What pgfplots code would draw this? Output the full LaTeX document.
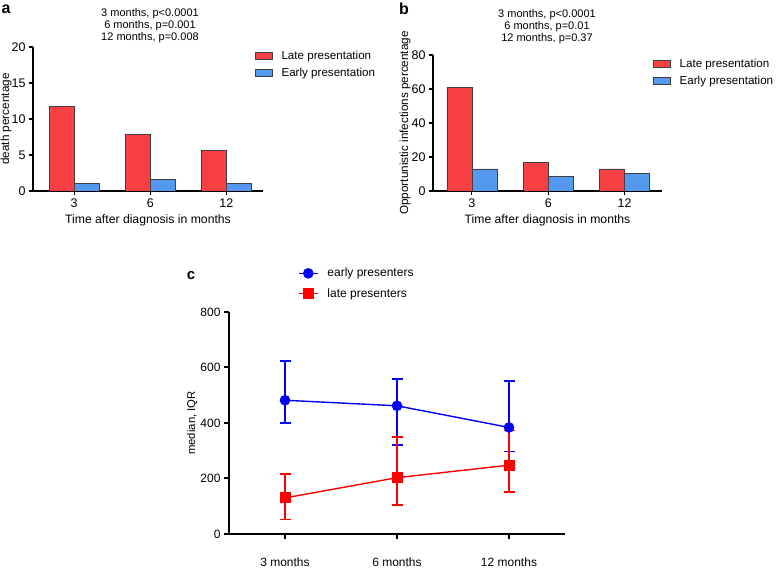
\documentclass[border=0pt]{standalone}
\usepackage{fontspec}
\setmainfont{Liberation Sans}
\usepackage{pgfplots}
\pgfplotsset{compat=1.18}
\definecolor{latered}{RGB}{246,64,68}
\definecolor{earlyblue}{RGB}{84,152,240}

\pgfplotsset{
  barpanel/.style={
    scale only axis, anchor=south west,
    ymin=0,
    axis x line*=bottom, axis y line*=left,
    axis line style={line width=1.1pt, black},
    xtick={0,1,2}, xticklabels={3,6,12},
    tick align=outside, major tick length=4pt,
    tick style={line width=1.1pt, black},
    ticklabel style={font=\fontsize{12.5}{13}\selectfont},
    /pgf/number format/assume math mode=true,
    xlabel style={font=\fontsize{12.2}{13}\selectfont},
    ylabel style={font=\fontsize{11.7}{12}\selectfont, anchor=center},
    legend style={draw=none, fill=none, anchor=north west,
      font=\fontsize{11.6}{12}\selectfont, row sep=3pt,
      inner sep=0pt, outer sep=0pt},
    legend cell align=left,
  },
  boxleg/.style={legend image code/.code={\draw[##1] (0pt,-3.5pt) rectangle (17pt,3.5pt); \path (24pt,0pt);}},
  lineleg/.style={legend image code/.code={\draw[mark repeat=2,mark phase=2,##1] plot coordinates {(0pt,0pt) (9.5pt,0pt) (19pt,0pt)}; \path (26pt,0pt);}},
  late/.style={ybar, bar width=25pt, bar shift=-12.5pt, fill=latered, draw=black!75, line width=0.6pt, boxleg},
  early/.style={ybar, bar width=25pt, bar shift=12.5pt, fill=earlyblue, draw=black!75, line width=0.6pt, boxleg},
}

\begin{document}
\begin{tikzpicture}
\path[use as bounding box] (0,0) rectangle (778pt,569pt);

% panel a
\begin{axis}[barpanel, at={(33pt,378pt)}, width=230pt, height=144pt,
    xmin=-0.54, xmax=2.48, ymax=20, ytick={0,5,10,15,20},
    xlabel={Time after diagnosis in months}, ylabel={death percentage},
    ylabel style={at={(axis description cs:-0.117,0.5)}},
    legend style={at={(0.965,0.985)}}]
  \addplot[late] coordinates {(0,11.7) (1,7.9) (2,5.6)};
  \addplot[early] coordinates {(0,1.1) (1,1.6) (2,1.1)};
  \legend{Late presentation, Early presentation}
\end{axis}

% panel b
\begin{axis}[barpanel, at={(433pt,378pt)}, width=229pt, height=136pt,
    xmin=-0.51, xmax=2.49, ymax=80, ytick={0,20,40,60,80},
    xlabel={Time after diagnosis in months}, ylabel={Opportunistic infections percentage},
    ylabel style={at={(axis description cs:-0.122,0.5)}},
    legend style={at={(0.961,0.985)}}]
  \addplot[late] coordinates {(0,61) (1,16.8) (2,13)};
  \addplot[early] coordinates {(0,13) (1,8.8) (2,10.4)};
  \legend{Late presentation, Early presentation}
\end{axis}

% panel c
\begin{axis}[scale only axis, anchor=south west, at={(229pt,35pt)},
    width=336pt, height=222pt,
    xmin=-0.5, xmax=2.5, ymin=0, ymax=800, ytick={0,200,400,600,800},
    xtick={0,1,2}, xticklabels={3 months,6 months,12 months},
    axis x line*=bottom, axis y line*=left,
    axis line style={line width=2.2pt, black},
    tick align=outside, major tick length=5pt,
    tick style={line width=2pt, black},
    ticklabel style={font=\fontsize{12}{12}\selectfont},
    xticklabel style={yshift=-15.5pt},
    /pgf/number format/assume math mode=true,
    ylabel={median, IQR},
    ylabel style={font=\fontsize{11.3}{12}\selectfont, anchor=center,
      at={(axis description cs:-0.11,0.5)}},
    legend style={draw=none, fill=none, anchor=north west, at={(0.205,1.207)},
      font=\fontsize{12}{12}\selectfont, row sep=6pt, inner sep=0pt},
    legend cell align=left,
    error bars/y dir=both, error bars/y explicit]
  \addplot[blue, line width=1.4pt, mark=*, mark size=4.6pt, lineleg,
      error bars/error bar style={blue, line width=1.3pt},
      error bars/error mark options={blue, rotate=90, mark size=5.5pt, line width=1.3pt}]
    coordinates {(0,482) += (0,141) -= (0,82)
                 (1,462) += (0,97) -= (0,141)
                 (2,384) += (0,167) -= (0,86)};
  \addplot[red, line width=1.4pt, mark=square*, mark size=4.8pt, lineleg,
      error bars/error bar style={red, line width=1.3pt},
      error bars/error mark options={red, rotate=90, mark size=5.5pt, line width=1.3pt}]
    coordinates {(0,130) += (0,86) -= (0,78)
                 (1,203) += (0,147) -= (0,99)
                 (2,248) += (0,125) -= (0,97)};
  \legend{early presenters, late presenters}
\end{axis}

\node[font=\bfseries\fontsize{16}{16}\selectfont] at (6pt,560pt) {a};
\node[font=\bfseries\fontsize{16}{16}\selectfont] at (404pt,560pt) {b};
\node[font=\bfseries\fontsize{15}{15}\selectfont] at (191pt,293pt) {c};
\node[align=center, font=\fontsize{11}{12}\selectfont] at (150pt,543pt)
  {3 months, p<0.0001\\6 months, p=0.001\\12 months, p=0.008};
\node[align=center, font=\fontsize{11}{12}\selectfont] at (547pt,542pt)
  {3 months, p<0.0001\\6 months, p=0.01\\12 months, p=0.37};
\end{tikzpicture}
\end{document}
